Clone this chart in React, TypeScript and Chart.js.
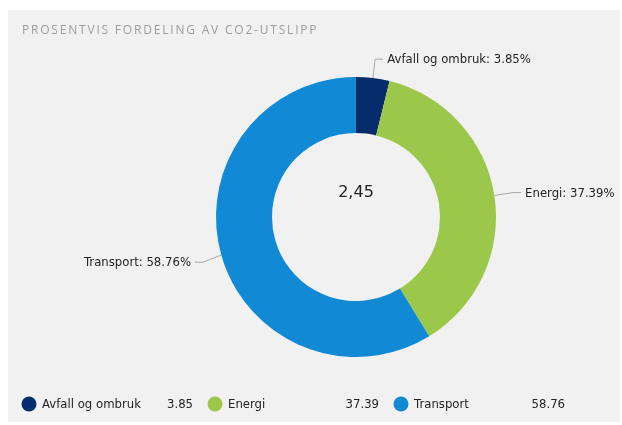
import React, { useEffect, useRef } from "react";
import { Chart, registerables } from "chart.js";

Chart.register(...registerables);

const title = "PROSENTVIS FORDELING AV CO2-UTSLIPP";
const categories = ["Avfall og ombruk", "Energi", "Transport"];
const values = [3.85, 37.39, 58.76];
const colors = ["#062c6b", "#9bc84a", "#1289d4"];
const centerLabel = "2,45";

const FONT = "'DejaVu Sans', sans-serif";

const decorPlugin = {
  id: "decor",
  afterDraw(chart: any) {
    const ctx = chart.ctx as CanvasRenderingContext2D;
    const meta = chart.getDatasetMeta(0);
    ctx.save();
    // title
    ctx.font = `12px 'Open Sans', sans-serif`;
    (ctx as any).letterSpacing = "1.8px";
    ctx.fillStyle = "#9d9d9d";
    ctx.textAlign = "left";
    ctx.textBaseline = "middle";
    ctx.fillText(title, 14, 21);
    (ctx as any).letterSpacing = "0px";

    // center text
    const a0 = meta.data[0];
    const cx = a0.x;
    const cy = a0.y;
    ctx.font = `16px ${FONT}`;
    ctx.fillStyle = "#222222";
    ctx.textAlign = "center";
    ctx.fillText(centerLabel, cx, cy - 24);

    // outside labels with leader lines
    ctx.font = `11.7px ${FONT}`;
    meta.data.forEach((arc: any, i: number) => {
      const p = arc.getProps(["x", "y", "startAngle", "endAngle", "outerRadius"], true);
      const mid = (p.startAngle + p.endAngle) / 2;
      const r0 = p.outerRadius;
      const r1 = p.outerRadius + 19;
      const x0 = p.x + Math.cos(mid) * r0;
      const y0 = p.y + Math.sin(mid) * r0;
      const x1 = p.x + Math.cos(mid) * r1;
      const y1 = p.y + Math.sin(mid) * r1 + (Math.sin(mid) > 0 ? 2 : 0);
      const dir = Math.cos(mid) >= 0 ? 1 : -1;
      const x2 = x1 + dir * 8;
      ctx.strokeStyle = "#a8a8a8";
      ctx.lineWidth = 1;
      ctx.beginPath();
      ctx.moveTo(x0, y0);
      ctx.lineTo(x1, y1);
      ctx.lineTo(x2, y1);
      ctx.stroke();
      ctx.fillStyle = "#252423";
      ctx.textAlign = dir > 0 ? "left" : "right";
      ctx.textBaseline = "middle";
      ctx.fillText(`${categories[i]}: ${values[i].toFixed(2)}%`, x2 + dir * 4, y1 + 1);
    });

    // legend
    const ly = 394;
    categories.forEach((c, i) => {
      const sx = 13 + i * 186;
      ctx.fillStyle = colors[i];
      ctx.beginPath();
      ctx.arc(sx + 8, ly, 7.5, 0, Math.PI * 2);
      ctx.fill();
      ctx.fillStyle = "#252423";
      ctx.font = `11.7px ${FONT}`;
      ctx.textAlign = "left";
      ctx.fillText(c, sx + 21, ly + 1);
      ctx.textAlign = "right";
      ctx.fillText(values[i].toFixed(2), sx + 172, ly + 1);
    });
    ctx.restore();
  },
};

export default function App() {
  const ref = useRef<HTMLCanvasElement>(null);
  useEffect(() => {
    if (!ref.current) return;
    const chart = new Chart(ref.current, {
      type: "doughnut",
      data: {
        labels: categories,
        datasets: [
          {
            data: values,
            backgroundColor: colors,
            borderWidth: 0,
            hoverOffset: 0,
          },
        ],
      },
      options: {
        responsive: true,
        maintainAspectRatio: false,
        animation: false,
        cutout: "60%",
        layout: { padding: { left: 208, right: 124, top: 67, bottom: 65 } },
        plugins: {
          legend: { display: false },
          tooltip: { enabled: false },
          title: { display: false },
        },
      },
      plugins: [decorPlugin],
    });
    return () => chart.destroy();
  }, []);
  return (
    <div
      style={{
        position: "absolute",
        left: 8,
        top: 10,
        width: 612,
        height: 412,
        background: "#f1f1f1",
      }}
    >
      <canvas ref={ref} />
    </div>
  );
}
